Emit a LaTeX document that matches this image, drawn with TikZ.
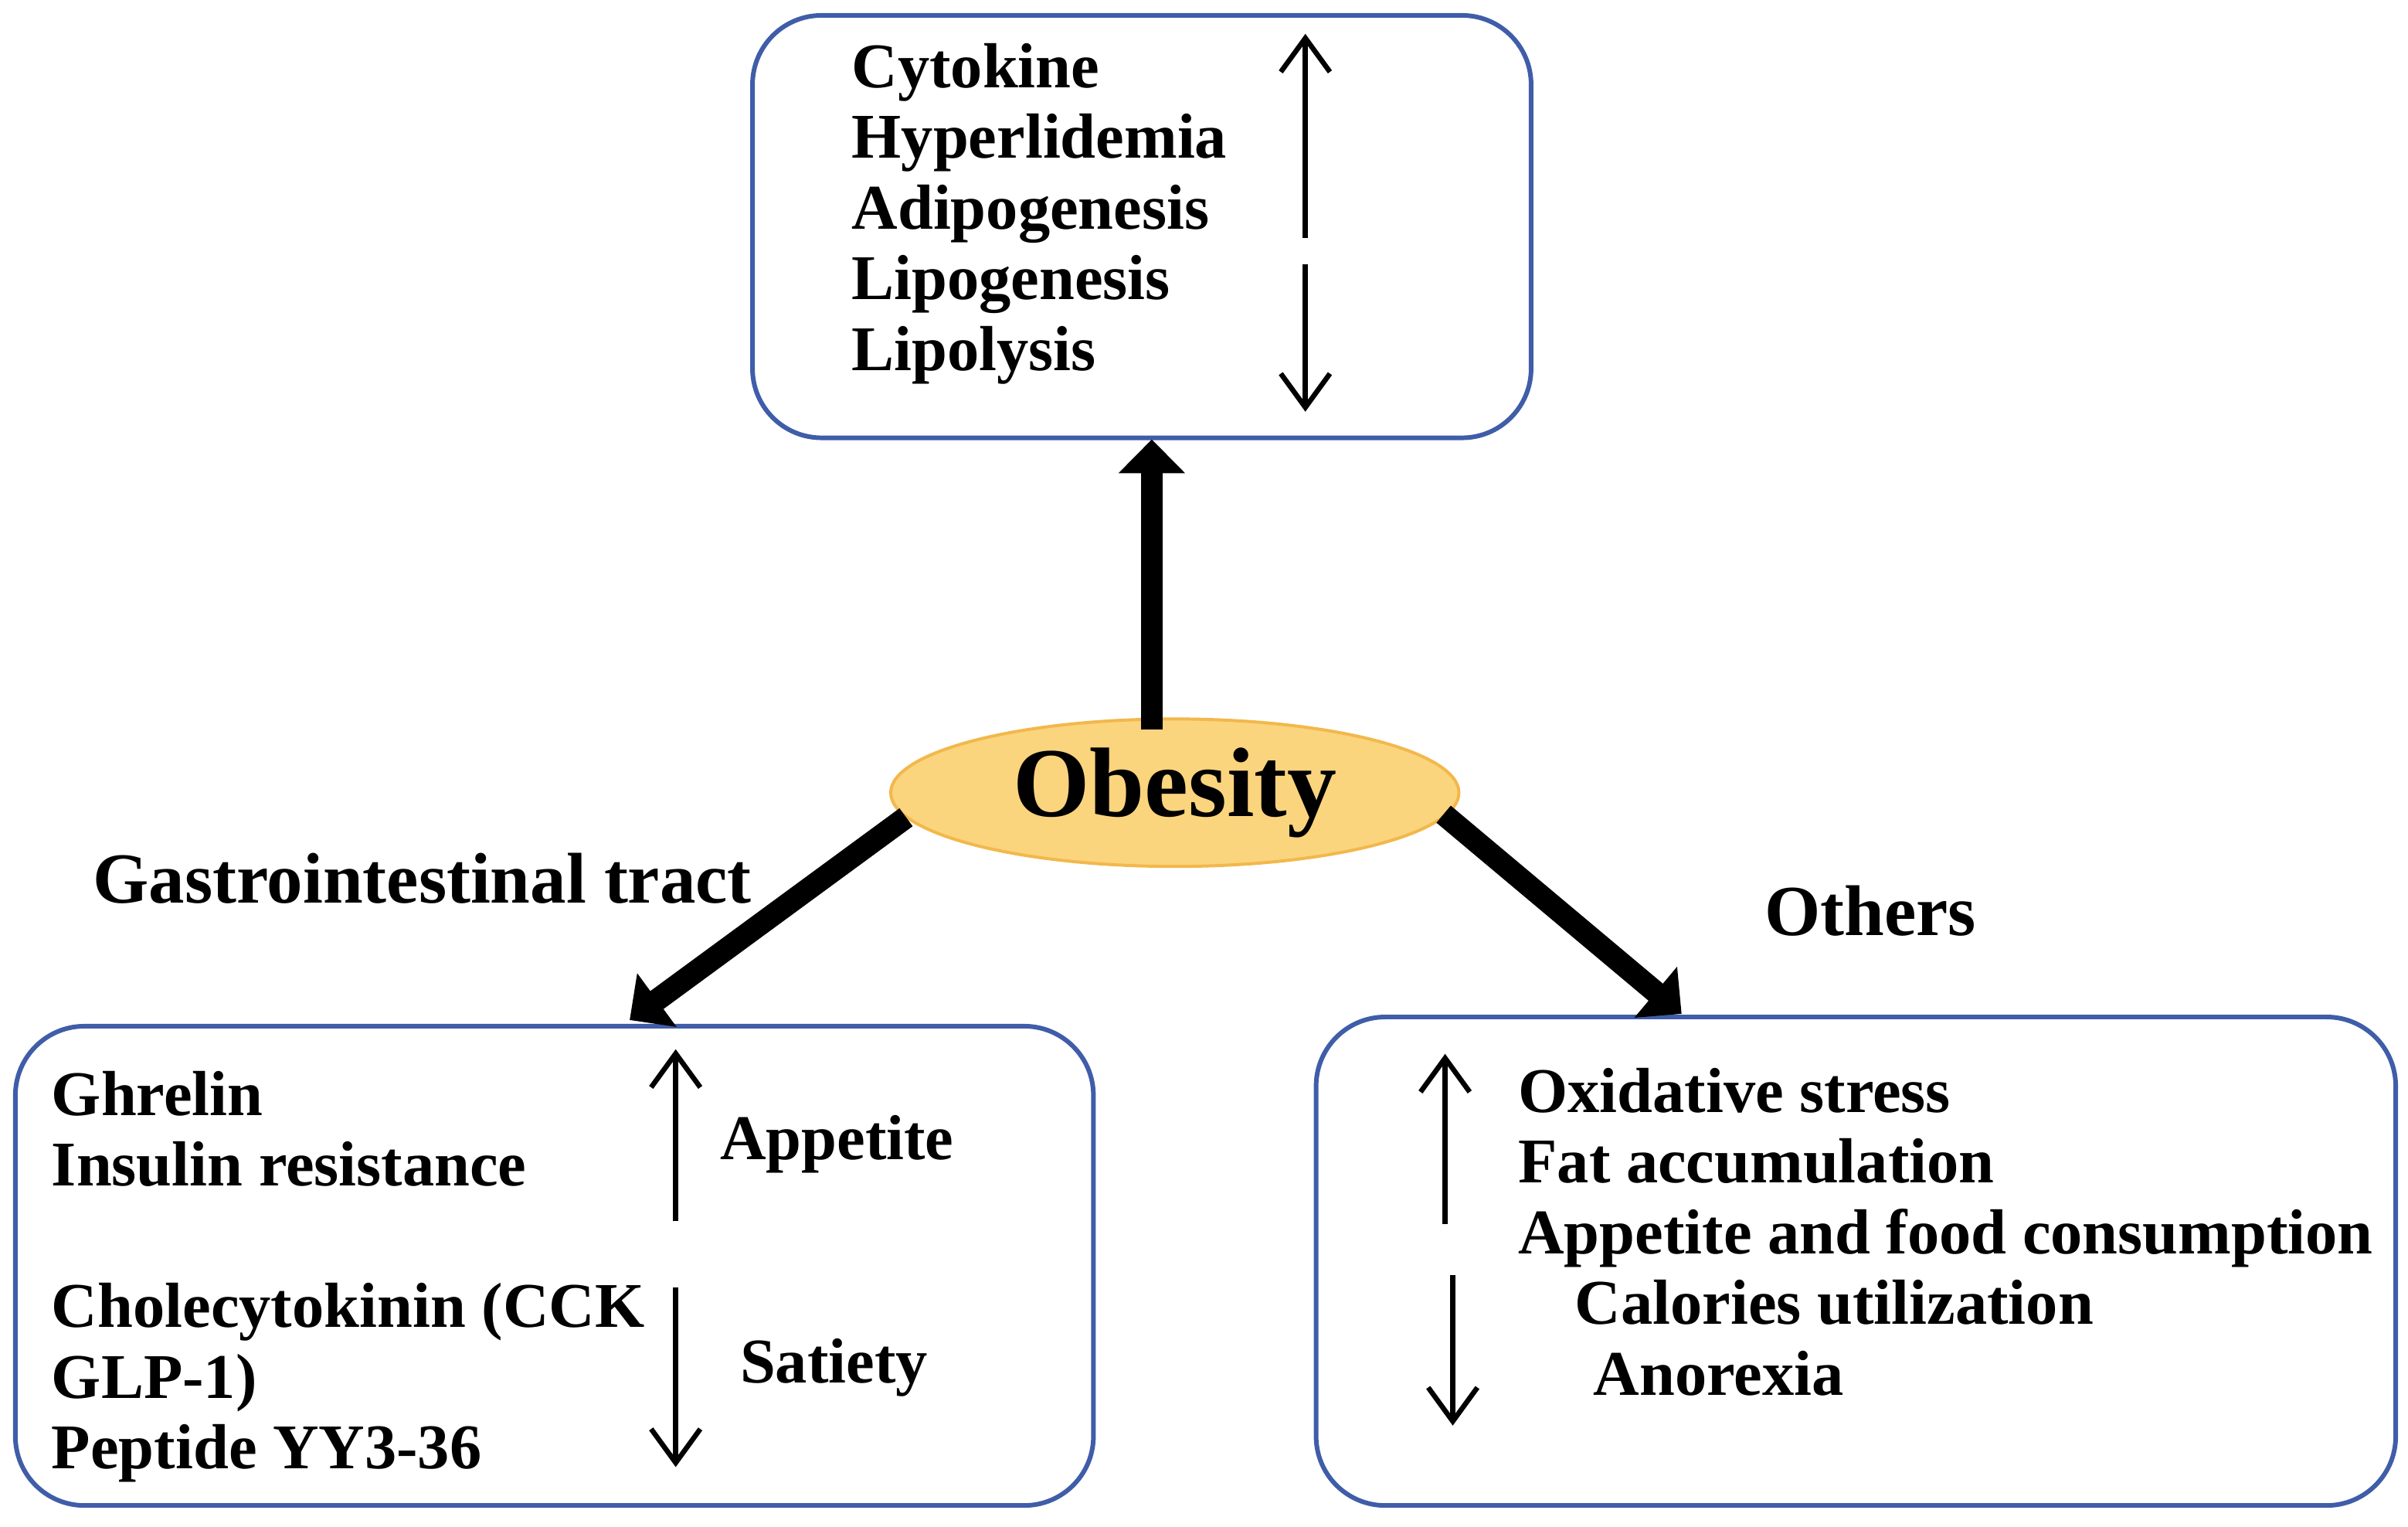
\documentclass[tikz,border=0pt]{standalone}
\usepackage{fontspec}
\setmainfont{Liberation Serif}
\usetikzlibrary{arrows.meta,shapes.geometric}
\definecolor{bx}{HTML}{3F5DA8}
\definecolor{ob}{HTML}{FBD47E}
\definecolor{obb}{HTML}{F2B84B}
\begin{document}
\begin{tikzpicture}[x=0.1mm,y=-0.1mm,
  box/.style={draw=bx,line width=0.3mm,rounded corners=4.5mm},
  txt/.style={anchor=base west,inner sep=0,font=\fontsize{11.8}{15}\selectfont\bfseries},
  lbl/.style={inner sep=0,font=\fontsize{13.3}{16}\selectfont\bfseries},
  thin/.style={line width=0.33mm,-{Straight Barb[length=2.2mm,width=3.2mm]}},
  thick/.style={line width=1.45mm,-{Triangle[length=2.2mm,width=4.2mm]}}]
\useasboundingbox (0,0) rectangle (1568,994);
\node[box,minimum width=50.7mm,minimum height=27.5mm] (top) at (743.5,147.5) {};
\node[box,minimum width=70.2mm,minimum height=31.2mm] (bl) at (361,824) {};
\node[box,minimum width=70.3mm,minimum height=31.8mm] (br) at (1208.5,821) {};
\node[ellipse,draw=obb,fill=ob,line width=0.2mm,inner sep=0,minimum width=37mm,minimum height=9.6mm,font=\fontsize{18.3}{22}\selectfont\bfseries] (ob) at (765,516) {Obesity};
% top texts
\foreach \t [count=\i] in {Cytokine,Hyperlidemia,Adipogenesis,Lipogenesis,Lipolysis}
  \node[txt] (t\i) at (554,{42+46*(\i-1)+15}) {\t};
\coordinate (tu1) at (850,155); \coordinate (tu2) at (850,22);
\coordinate (td1) at (850,172); \coordinate (td2) at (850,268);
\draw[thin] (tu1) -- (tu2); \draw[thin] (td1) -- (td2);
% bottom left
\node[txt] (g1) at (33,726) {Ghrelin};
\node[txt] (g2) at (33,772) {Insulin resistance};
\node[txt] (g3) at (33,864) {Cholecytokinin (CCK};
\node[txt] (g4) at (33,910) {GLP-1)};
\node[txt] (g5) at (33,956) {Peptide YY3-36};
\node[txt,anchor=base] (ap) at (545,755) {Appetite};
\node[txt,anchor=base] (sa) at (543,900) {Satiety};
\coordinate (lu1) at (440,795); \coordinate (lu2) at (440,683);
\coordinate (ld1) at (440,838); \coordinate (ld2) at (440,955);
\draw[thin] (lu1) -- (lu2); \draw[thin] (ld1) -- (ld2);
% bottom right
\node[txt] (r1) at (988,724) {Oxidative stress};
\node[txt] (r2) at (988,770) {Fat accumulation};
\node[txt] (r3) at (988,816) {Appetite and food consumption};
\node[txt] (r4) at (1025,862) {Calories utilization};
\node[txt] (r5) at (1037,908) {Anorexia};
\coordinate (ru1) at (941,797); \coordinate (ru2) at (941,686);
\coordinate (rd1) at (946,830); \coordinate (rd2) at (946,928);
\draw[thin] (ru1) -- (ru2); \draw[thin] (rd1) -- (rd2);
% labels
\node[lbl] (gi) at (275,572) {Gastrointestinal tract};
\node[lbl] (oth) at (1218,593) {Others};
% thick arrows
\coordinate (a1) at (750,475); \coordinate (a2) at (750,286);
\coordinate (b1) at (590,532); \coordinate (b2) at (410,664);
\coordinate (c1) at (940,530); \coordinate (c2) at (1095,660);
\draw[thick] (a1) -- (a2);
\draw[thick] (b1) -- (b2);
\draw[thick] (c1) -- (c2);
\end{tikzpicture}
\end{document}
